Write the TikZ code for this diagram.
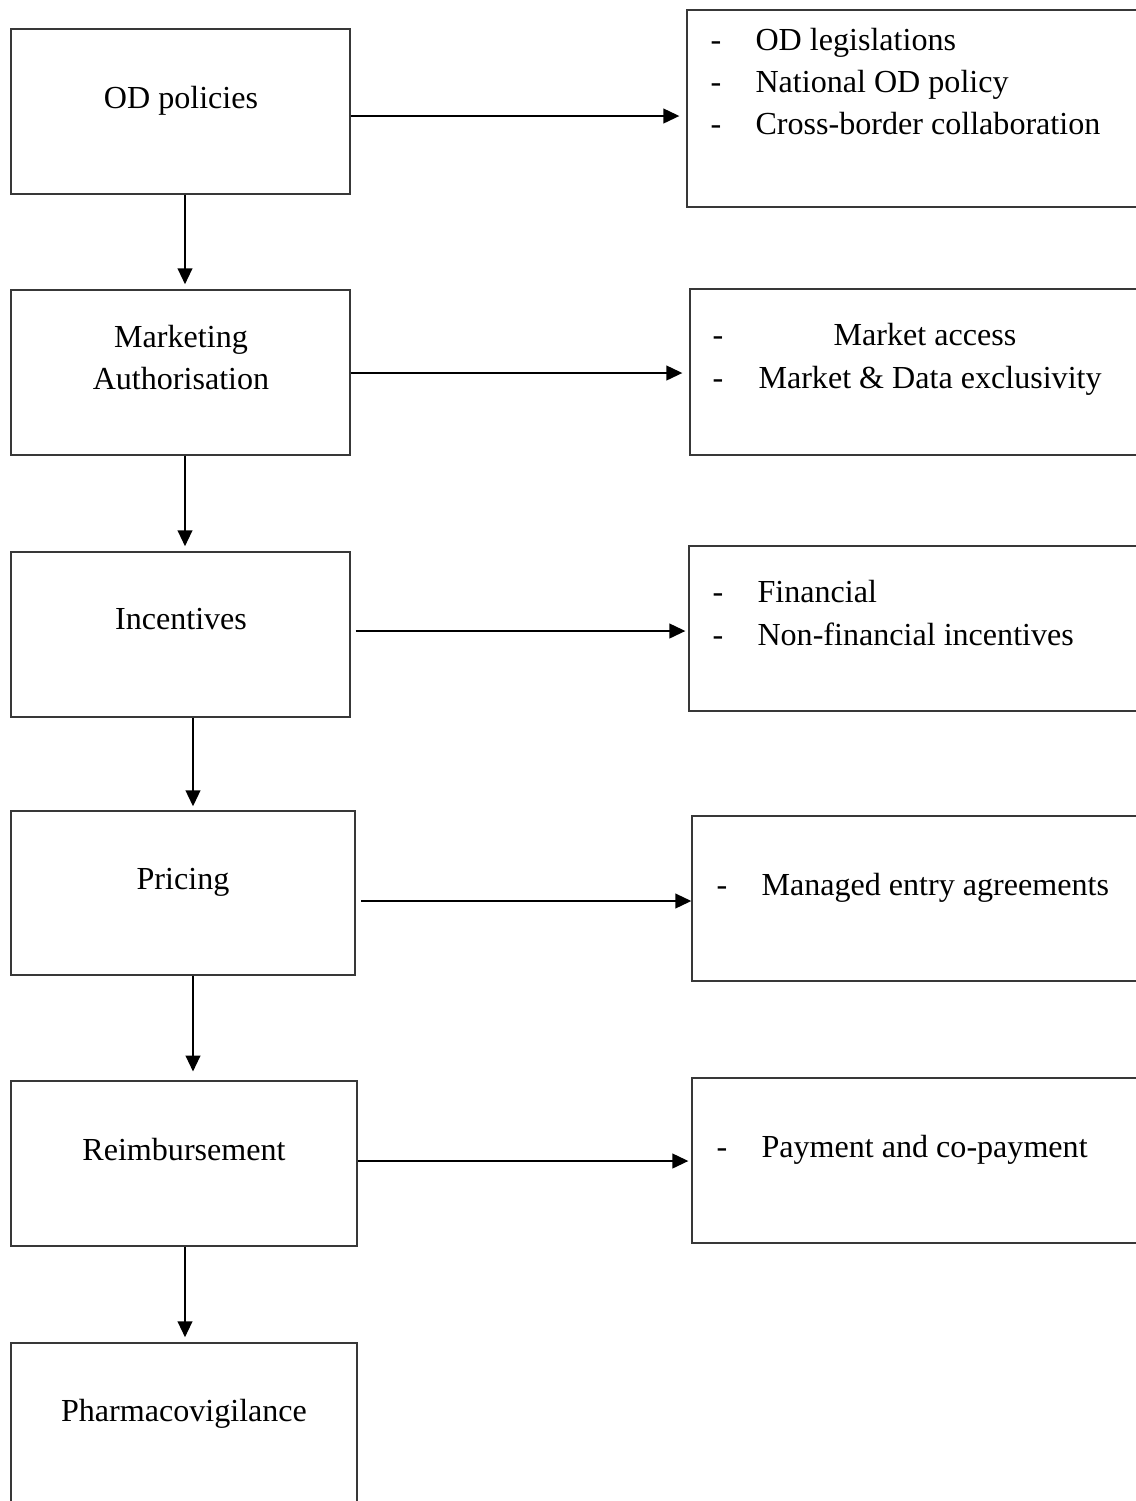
\documentclass[tikz,border=0pt]{standalone}
\usepackage{fontspec}
\setmainfont{Liberation Serif}
\usetikzlibrary{arrows.meta,fit}
\begin{document}
\begin{tikzpicture}[x=0.374pt,y=-0.374pt,
  box/.style={draw=black!78, line width=0.45pt, inner sep=0pt},
  lbl/.style={font=\fontsize{12}{14}\selectfont, inner sep=0pt},
  arr/.style={line width=1pt, -{Triangle[width=5.4pt,length=6pt]}}]
\useasboundingbox (0,0) rectangle (1136,1501);
\clip (0,0) rectangle (1136,1501);
% left boxes
\node[box, fit={(11,29) (350,194)}] (L1) {};
\node[box, fit={(11,290) (350,455)}] (L2) {};
\node[box, fit={(11,552) (350,717)}] (L3) {};
\node[box, fit={(11,811) (355,975)}] (L4) {};
\node[box, fit={(11,1081) (357,1246)}] (L5) {};
\node[box, fit={(11,1343) (357,1515)}] (L6) {};
% right boxes
\node[box, fit={(687,10) (1150,207)}] (R1) {};
\node[box, fit={(690,289) (1150,455)}] (R2) {};
\node[box, fit={(689,546) (1150,711)}] (R3) {};
\node[box, fit={(692,816) (1150,981)}] (R4) {};
\node[box, fit={(692,1078) (1150,1243)}] (R5) {};
% left texts
\node[lbl, anchor=base] (t1) at (181,108) {OD policies};
\node[lbl, anchor=base] (t2a) at (181,347) {Marketing};
\node[lbl, anchor=base] (t2b) at (181,389) {Authorisation};
\node[lbl, anchor=base] (t3) at (181,629) {Incentives};
\node[lbl, anchor=base] (t4) at (183,889) {Pricing};
\node[lbl, anchor=base] (t5) at (184,1160) {Reimbursement};
\node[lbl, anchor=base] (t6) at (184,1421) {Pharmacovigilance};
% right texts
\node[lbl, anchor=base west] (d1a) at (710,50) {-};
\node[lbl, anchor=base west] (r1a) at (755,50) {OD legislations};
\node[lbl, anchor=base west] (d1b) at (710,92) {-};
\node[lbl, anchor=base west] (r1b) at (755,92) {National OD policy};
\node[lbl, anchor=base west] (d1c) at (710,134) {-};
\node[lbl, anchor=base west] (r1c) at (755,134) {Cross-border collaboration};
\node[lbl, anchor=base west] (d2a) at (712,345) {-};
\node[lbl, anchor=base] (r2a) at (925,345) {Market access};
\node[lbl, anchor=base west] (d2b) at (712,388) {-};
\node[lbl, anchor=base west] (r2b) at (758,388) {Market \& Data exclusivity};
\node[lbl, anchor=base west] (d3a) at (712,602) {-};
\node[lbl, anchor=base west] (r3a) at (757,602) {Financial};
\node[lbl, anchor=base west] (d3b) at (712,645) {-};
\node[lbl, anchor=base west] (r3b) at (757,645) {Non-financial incentives};
\node[lbl, anchor=base west] (d4) at (716,895) {-};
\node[lbl, anchor=base west] (r4) at (761,895) {Managed entry agreements};
\node[lbl, anchor=base west] (d5) at (716,1157) {-};
\node[lbl, anchor=base west] (r5) at (761,1157) {Payment and co-payment};
% down arrows
\draw[arr, shorten >=1.9pt] (L1.south -| 185,0) -- (L2.north -| 185,0);
\draw[arr, shorten >=1.9pt] (L2.south -| 185,0) -- (L3.north -| 185,0);
\draw[arr, shorten >=1.5pt] (L3.south -| 193,0) -- (L4.north -| 193,0);
\draw[arr, shorten >=3.3pt] (L4.south -| 193,0) -- (L5.north -| 193,0);
\draw[arr, shorten >=1.9pt] (L5.south -| 185,0) -- (L6.north -| 185,0);
% right arrows
\draw[arr, shorten >=2.6pt] (L1.east |- 0,116) -- (R1.west |- 0,116);
\draw[arr, shorten >=2.6pt] (L2.east |- 0,373) -- (R2.west |- 0,373);
\draw[arr, shorten <=1.9pt, shorten >=1.1pt] (L3.east |- 0,631) -- (R3.west |- 0,631);
\draw[arr, shorten <=2.2pt] (L4.east |- 0,901) -- (R4.west |- 0,901);
\draw[arr, shorten >=1.1pt] (L5.east |- 0,1161) -- (R5.west |- 0,1161);
\end{tikzpicture}
\end{document}
